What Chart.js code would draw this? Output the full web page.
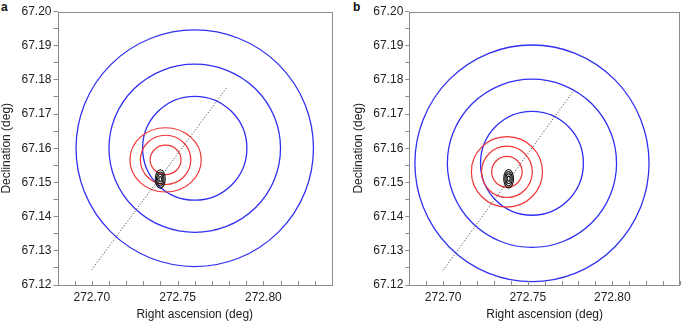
<!DOCTYPE html>
<html>
<head>
<meta charset="utf-8">
<script src="https://cdn.jsdelivr.net/npm/chart.js@4.4.1/dist/chart.umd.min.js"></script>
<style>
	html, body { margin: 0; padding: 0; background: #fff; }
	body { width: 685px; height: 322px; position: relative; overflow: hidden; font-family: 'Liberation Sans', Arial, sans-serif; }
	.panel { position: absolute; top: 0; height: 322px; }
	#panelA { left: 0; width: 342px; }
	#panelB { left: 342px; width: 343px; }
	.tag { position: absolute; top: 0; font-weight: bold; font-size: 12px; color: #111; }
</style>
</head>
<body>
<div class="tag" style="left:1px">a</div>
<div class="tag" style="left:353px">b</div>
<div class="panel" id="panelA"><canvas id="chartA"></canvas></div>
<div class="panel" id="panelB"><canvas id="chartB"></canvas></div>
<script>
// axis ticks (minor + labelled)
const raTicks = [272.68, 272.69, 272.70, 272.71, 272.72, 272.73, 272.74, 272.75, 272.76,
	272.77, 272.78, 272.79, 272.80, 272.81, 272.82, 272.83, 272.84]
const raLabels = [272.70, 272.75, 272.80]
const decTicks = [67.12, 67.125, 67.13, 67.135, 67.14, 67.145, 67.15, 67.155, 67.16,
	67.165, 67.17, 67.175, 67.18, 67.185, 67.19, 67.195, 67.20]
const decLabels = [67.12, 67.13, 67.14, 67.15, 67.16, 67.17, 67.18, 67.19, 67.20]

// ring radii (deg), inner -> outer
const blueRadiusRa = [0.0304, 0.0500, 0.0692]
const blueRadiusDec = [0.0152, 0.0246, 0.0346]
const aRedRadiusRa = [0.0090, 0.0147, 0.0208]
const aRedRadiusDec = [0.0043, 0.0072, 0.0094]
const bRedRadiusRa = [0.0090, 0.0150, 0.0210]
const bRedRadiusDec = [0.0045, 0.0075, 0.0103]
// source contour: outer half-widths and nested levels
const contourRadiusRa = 0.0029
const contourRadiusDec = 0.0027
const contourLevels = [1, 0.76, 0.52, 0.28]

// panel a
const aBlueCentre = [272.760, 67.160]
const aRedCentre = [272.743, 67.1566]
const aSourceCentre = [272.7399, 67.1510]
const aTrackRa = [272.700, 272.7786]
const aTrackDec = [67.1245, 67.1777]

// panel b
const bBlueCentre = [272.7525, 67.1556]
const bRedCentre = [272.7377, 67.1531]
const bSourceCentre = [272.7387, 67.1511]
const bTrackRa = [272.700, 272.7782]
const bTrackDec = [67.1243, 67.1776]

const FONT = "'Liberation Sans', Arial, sans-serif"
const FRAME = '#8c8c8c'
const BLUE = '#3030f0'
const RED = '#f03434'

const isLabel = (list, v) => list.some((l) => Math.abs(l - v) < 1e-6)

// rings drawn through the chart scales
const ringsPlugin = {
	id: 'rings',
	beforeDatasetsDraw(chart, args, opts) {
		const { ctx, chartArea, scales: { x, y } } = chart
		ctx.save()
		ctx.beginPath()
		ctx.rect(chartArea.left, chartArea.top, chartArea.width, chartArea.height)
		ctx.clip()
		opts.rings.forEach((r) => {
			const cx = x.getPixelForValue(r.ra)
			const cy = y.getPixelForValue(r.dec)
			const rx = Math.abs(x.getPixelForValue(r.ra + r.rRa) - cx)
			const ry = Math.abs(y.getPixelForValue(r.dec + r.rDec) - cy)
			ctx.beginPath()
			ctx.ellipse(cx, cy, rx, ry, 0, 0, Math.PI * 2)
			ctx.strokeStyle = r.color
			ctx.lineWidth = r.width
			ctx.stroke()
		})
		ctx.restore()
	},
}

// box frame + inward ticks on the RA axis
const framePlugin = {
	id: 'frame',
	afterDraw(chart) {
		const { ctx, chartArea: a, scales: { x } } = chart
		ctx.save()
		ctx.strokeStyle = FRAME
		ctx.lineWidth = 1
		ctx.strokeRect(Math.round(a.left) + 0.5, Math.round(a.top) + 0.5,
			Math.round(a.width) - 1, Math.round(a.height) - 1)
		ctx.beginPath()
		x.ticks.forEach((t) => {
			const px = Math.round(x.getPixelForValue(t.value)) + 0.5
			ctx.moveTo(px, Math.round(a.bottom))
			ctx.lineTo(px, Math.round(a.bottom) - 4)
		})
		ctx.stroke()
		ctx.restore()
	},
}

const buildRings = (blueC, redC, srcC, redRa, redDec) => {
	const rings = []
	blueRadiusRa.forEach((r, i) => rings.push({ ra: blueC[0], dec: blueC[1], rRa: r, rDec: blueRadiusDec[i], color: BLUE, width: 1.3 }))
	redRa.forEach((r, i) => rings.push({ ra: redC[0], dec: redC[1], rRa: r, rDec: redDec[i], color: RED, width: 1.2 }))
	contourLevels.forEach((k) => rings.push({ ra: srcC[0], dec: srcC[1], rRa: contourRadiusRa * k, rDec: contourRadiusDec * k, color: '#111', width: 1.1 }))
	return rings
}

const makePanel = (id, rings, trackRa, trackDec, yWidth, yTitlePad, padRight) => {
	const ctx = document.getElementById(id).getContext('2d')
	return new Chart(ctx, {
		type: 'scatter',
		data: {
			datasets: [
				{
					data: trackRa.map((v, i) => ({ x: v, y: trackDec[i] })),
					showLine: true,
					borderColor: '#333',
					borderWidth: 1,
					borderDash: [1, 2],
					pointRadius: 0,
				},
			],
		},
		options: {
			responsive: true,
			maintainAspectRatio: false,
			animation: false,
			layout: { padding: { top: 11.5, right: padRight, left: 0, bottom: 0 } },
			plugins: {
				legend: { display: false },
				tooltip: { enabled: false },
				rings: { rings: rings },
			},
			scales: {
				x: {
					type: 'linear',
					min: 272.68,
					max: 272.84,
					afterBuildTicks: (s) => { s.ticks = raTicks.map((v) => ({ value: v })) },
					afterFit: (s) => { s.height = 37 },
					border: { display: false },
					grid: { display: true, drawOnChartArea: false, drawTicks: false, color: 'rgba(0,0,0,0)' },
					ticks: {
						autoSkip: false,
						maxRotation: 0,
						padding: 5,
						color: '#222',
						font: { family: FONT, size: 12 },
						callback: (v) => (isLabel(raLabels, v) ? v.toFixed(2) : ''),
					},
					title: {
						display: true,
						text: 'Right ascension (deg)',
						color: '#222',
						font: { family: FONT, size: 12 },
						padding: { top: 0, bottom: 0 },
					},
				},
				y: {
					type: 'linear',
					min: 67.12,
					max: 67.20,
					afterBuildTicks: (s) => { s.ticks = decTicks.map((v) => ({ value: v })) },
					afterFit: (s) => { s.width = yWidth },
					border: { display: false },
					grid: { drawOnChartArea: false, drawTicks: true, tickLength: 4, color: FRAME },
					ticks: {
						autoSkip: false,
						padding: 2,
						color: '#222',
						font: { family: FONT, size: 12 },
						callback: (v) => (isLabel(decLabels, v) ? v.toFixed(2) : ''),
					},
					title: {
						display: true,
						text: 'Declination (deg)',
						color: '#222',
						font: { family: FONT, size: 12 },
						padding: { top: yTitlePad, bottom: 0 },
					},
				},
			},
		},
		plugins: [ringsPlugin, framePlugin],
	})
}

makePanel('chartA', buildRings(aBlueCentre, aRedCentre, aSourceCentre, aRedRadiusRa, aRedRadiusDec),
	aTrackRa, aTrackDec, 57.5, -1, 10)
makePanel('chartB', buildRings(bBlueCentre, bRedCentre, bSourceCentre, bRedRadiusRa, bRedRadiusDec),
	bTrackRa, bTrackDec, 67.3, 9, 1)
</script>
</body>
</html>
